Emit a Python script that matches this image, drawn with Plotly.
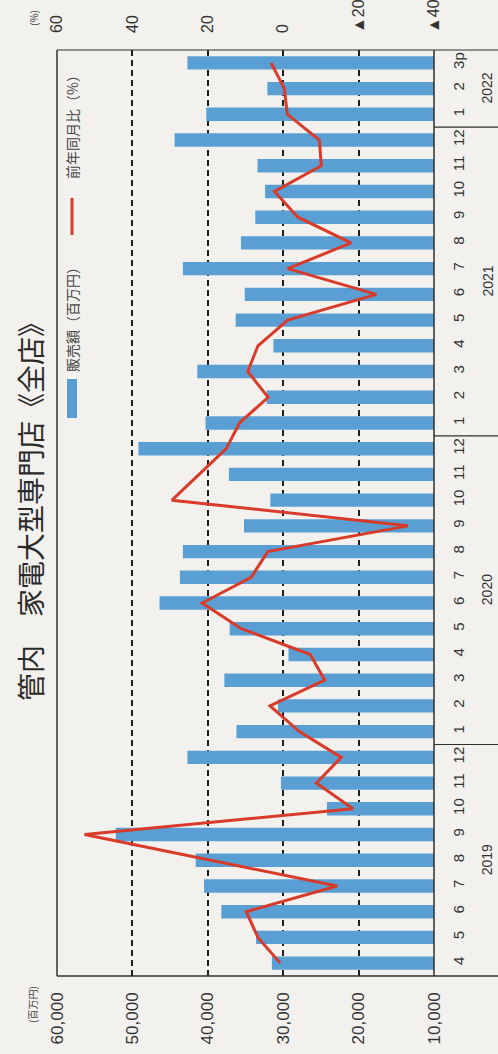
import plotly.graph_objects as go

# ---- data ----
month_labels = ["4", "5", "6", "7", "8", "9", "10", "11", "12",
                "1", "2", "3", "4", "5", "6", "7", "8", "9", "10", "11", "12",
                "1", "2", "3", "4", "5", "6", "7", "8", "9", "10", "11", "12",
                "1", "2", "3p"]
years = ["2019", "2020", "2021", "2022"]
year_first_idx = [0, 9, 21, 33]
year_last_idx = [8, 20, 32, 35]

sales = [31500, 33600, 38200, 40500, 41600, 52200, 24200, 30300, 42700,
         36200, 30700, 37800, 29300, 37100, 46400, 43700, 43300, 35200, 31700, 37200, 49200,
         40300, 32200, 41400, 31300, 36300, 35100, 43300, 35600, 33700, 32400, 33400, 44400,
         40200, 32100, 42700]
yoy = [0.8, 6.7, 9.8, -14.3, 19.2, 52.7, -18.5, -8.8, -15.4,
       -4.3, 3.5, -11.0, -7.2, 11.1, 21.5, 8.5, 4.1, -33.1, 29.5, 22.2, 15.1,
       11.6, 4.0, 9.4, 6.7, -1.2, -24.7, -1.2, -18.0, -3.9, 2.3, -10.1, -9.6,
       -1.1, -0.3, 3.2]

sales_ticks = [10000, 20000, 30000, 40000, 50000, 60000]
sales_ticktext = ["10,000", "20,000", "30,000", "40,000", "50,000", "60,000"]
pct_ticks = [60, 40, 20, 0, -20, -40]
pct_ticktext = ["60", "40", "20", "0", "▲20", "▲40"]

idx = list(range(len(month_labels)))

W, H = 498, 1054
L, R, T, B = 57, 434, 50, 976


def px(x):
    return (x - L) / (R - L)


def py(y):
    return (B - y) / (B - T)


BG = "#f2f1ed"
BLUE = "#5a9fd4"
RED = "#d93b2a"
INK = "#2f302c"
JP = "Noto Sans CJK JP"
NUM = "Liberation Sans, Arial, sans-serif"

fig = go.Figure()
fig.add_trace(go.Bar(
    x=sales, y=idx, orientation="h", width=0.52,
    marker=dict(color=BLUE, line=dict(width=0)),
    xaxis="x", yaxis="y", showlegend=False,
))
fig.add_trace(go.Scatter(
    x=yoy, y=idx, mode="lines",
    line=dict(color=RED, width=3),
    xaxis="x2", yaxis="y", showlegend=False,
))

shapes = []
# frame
shapes.append(dict(type="line", xref="paper", yref="paper", x0=0, x1=0, y0=0, y1=1,
                   line=dict(color=INK, width=1.5)))
shapes.append(dict(type="line", xref="paper", yref="paper", x0=1, x1=1, y0=0, y1=1,
                   line=dict(color=INK, width=1.5)))
shapes.append(dict(type="line", xref="paper", yref="paper", x0=0, x1=px(W), y0=1, y1=1,
                   line=dict(color=INK, width=1.2)))
shapes.append(dict(type="line", xref="paper", yref="paper", x0=0, x1=px(W), y0=0, y1=0,
                   line=dict(color=INK, width=1.5)))
# year separators on the category side
for last in year_last_idx[:-1]:
    shapes.append(dict(type="line", xref="paper", yref="y", x0=1, x1=px(W),
                       y0=last + 0.5, y1=last + 0.5, line=dict(color=INK, width=1.2)))
# legend marks
shapes.append(dict(type="rect", xref="paper", yref="paper", x0=px(67), x1=px(77),
                   y0=py(418), y1=py(379), fillcolor=BLUE, line=dict(width=0)))
shapes.append(dict(type="line", xref="paper", yref="paper", x0=px(72), x1=px(72),
                   y0=py(235), y1=py(198), line=dict(color=RED, width=3)))


def label(text, x, y, size, color="#444", family=JP, yref="paper", yval=None):
    return dict(text=text, xref="paper", yref=yref, x=px(x),
                y=py(y) if yval is None else yval,
                xanchor="center", yanchor="middle", showarrow=False, textangle=-90,
                font=dict(family=family, size=size, color=color))


annotations = [
    label("管内　家電大型専門店《全店》", 30, 505, 28, color="#2a2a2a"),
    label("販売額（百万円）", 72, 316, 14),
    label("前年同月比（%）", 72, 124, 14),
    label("(百万円)", 32, 1004, 10),
    label("(%)", 33, 18, 10),
]
for yr, a, b in zip(years, year_first_idx, year_last_idx):
    annotations.append(label(yr, 487, 0, 14, color="#333", family=NUM,
                             yref="y", yval=(a + b) / 2))

fig.update_layout(
    width=W, height=H,
    margin=dict(l=L, r=W - R, t=T, b=H - B, pad=0, autoexpand=False),
    paper_bgcolor=BG, plot_bgcolor=BG,
    bargap=0.48,
    xaxis=dict(range=[60000, 10000], tickvals=sales_ticks, ticktext=sales_ticktext,
               tickangle=-90, side="bottom", showgrid=True, gridcolor="#1e1e1e",
               gridwidth=2, griddash="6px,4px", zeroline=False, showline=False,
               ticks="", ticklabelstandoff=12, automargin=False,
               tickfont=dict(family=NUM, size=17, color="#333")),
    xaxis2=dict(range=[60, -40], overlaying="x", side="top", tickvals=pct_ticks,
                ticktext=pct_ticktext, tickangle=-90, showgrid=False, zeroline=False,
                showline=False, ticks="", ticklabelstandoff=16, automargin=False,
                tickfont=dict(family=NUM, size=16, color="#333")),
    yaxis=dict(range=[-0.5, 35.5], side="right", tickvals=idx, ticktext=month_labels,
               tickangle=-90, showgrid=False, zeroline=False, showline=False,
               ticks="", ticklabelstandoff=14, automargin=False,
               tickfont=dict(family=NUM, size=15, color="#333")),
    shapes=shapes, annotations=annotations,
)

fig.write_html(
    "out.html",
    config={"displayModeBar": False},
    post_script="document.body.style.margin='0';document.body.style.background='%s';" % BG,
)
